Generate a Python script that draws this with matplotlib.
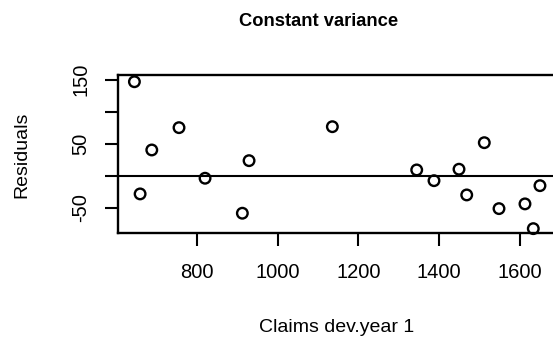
import matplotlib
matplotlib.use("Agg")
import matplotlib.pyplot as plt

plt.rcParams['font.family'] = ['Liberation Sans', 'DejaVu Sans']

# fitted claims (dev. year 1) and their residuals
claims = [645.6, 756.0, 688.6, 820.5, 659.7, 1135.6, 929.4, 912.8, 1511.7,
          1344.4, 1449.1, 1387.2, 1468.2, 1649.5, 1548.1, 1612.4, 1633.0]
residuals = [147.0, 75.2, 40.3, -3.9, -28.4, 76.7, 23.6, -58.6, 51.7,
             9.1, 10.2, -7.7, -30.0, -15.5, -51.4, -44.0, -82.7]

xticks = [800, 1000, 1200, 1400, 1600]
xtick_labels = ["800", "1000", "1200", "1400", "1600"]
yticks = [-50, 0, 50, 100, 150]
ytick_labels = ["-50", "", "50", "", "150"]

fig = plt.figure(figsize=(5.53, 3.43), dpi=100)
ax = fig.add_axes([0.2134, 0.3198, 0.7926, 0.4615])

ax.scatter(claims, residuals, s=58, facecolors='none', edgecolors='black',
           linewidths=1.7, zorder=3, clip_on=False)
ax.axhline(0, color='black', lw=1.5)

ax.set_xlim(605, 1690)
ax.set_ylim(-90, 157.5)

ax.set_xticks(xticks)
ax.set_xticklabels(xtick_labels)
ax.set_yticks(yticks)
ax.set_yticklabels(ytick_labels, rotation=90, va='center')
ax.tick_params(direction='out', length=9.5, width=1.5, labelsize=14.5)
ax.tick_params(axis='x', pad=12)
ax.tick_params(axis='y', pad=10.5)

for s in ax.spines.values():
    s.set_linewidth(1.7)

fig.text(319 / 553, 1 - 21.7 / 343, "Constant variance", ha='center', va='center',
         fontsize=13.2, fontweight='bold')
fig.text(337 / 553, 1 - 328 / 343, "Claims dev.year 1", ha='center', va='center',
         fontsize=14)
fig.text(22 / 553, 1 - 154.5 / 343, "Residuals", ha='center', va='center',
         rotation=90, fontsize=14)

fig.savefig("out.png", dpi=100)
